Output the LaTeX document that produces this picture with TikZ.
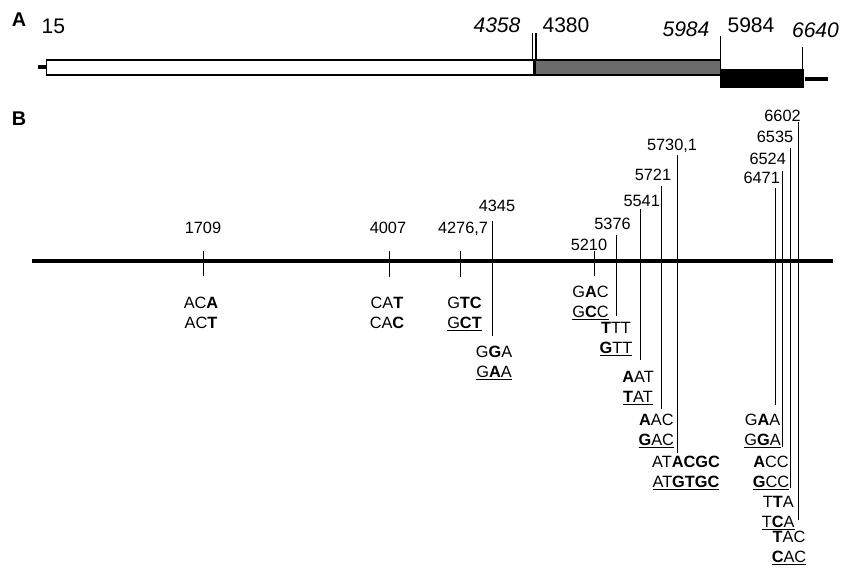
\documentclass[tikz,border=0pt]{standalone}
\usepackage{fontspec}
\setmainfont{Liberation Sans}
\usepackage{tikz}
\usetikzlibrary{positioning}
\definecolor{BarGray}{HTML}{6B6B6B}
\tikzset{
  panel/.style={font=\bfseries\fontsize{11.3}{13}\selectfont,inner sep=0pt,anchor=base},
  poslab/.style={font=\fontsize{12}{14}\selectfont,inner sep=0pt,anchor=base},
  numlab/.style={font=\fontsize{9.3}{11}\selectfont,inner sep=0pt,anchor=base},
  seqlab/.style={font=\fontsize{9.3}{11}\selectfont,inner sep=0pt,anchor=base},
  lead/.style={line width=0.6pt},
  stub/.style={line width=2.2pt},
  bar/.style={draw=black,line width=0.6pt},
}

\begin{document}
\begin{tikzpicture}[x=0.02cm,y=-0.02cm]
  \useasboundingbox (0,0) rectangle (846,569);
  % panel A
  \node[panel] (pA) at (19,26) {A};
  \draw[stub] (38.3,66.7) -- (46.7,66.7);
  \draw[bar,fill=white] (46.7,60) rectangle (533.5,75);
  \draw[bar,fill=BarGray] (535,60) rectangle (720.7,75);
  \draw[bar,fill=black] (720.7,70) rectangle (803.3,87);
  \draw[stub] (805,79) -- (828,79);
  \node[poslab] (p15) at (53.3,33) {15};
  \node[poslab,font=\itshape\fontsize{12}{14}\selectfont] (p4358) at (497,32) {4358};
  \node[poslab] (p4380) at (566,32) {4380};
  \node[poslab,font=\itshape\fontsize{12}{14}\selectfont] (p5984i) at (686,36.7) {5984};
  \node[poslab] (p5984) at (751,32) {5984};
  \node[poslab,font=\itshape\fontsize{12}{14}\selectfont] (p6640) at (815.5,37) {6640};
  \foreach \n/\x/\t/\b in {a/532.7/33/60, b/536/33/60, c/720.7/36/60, d/802.3/47.3/70}{
    \coordinate (mt\n) at (\x,\t);
    \coordinate (mb\n) at (\x,\b);
    \draw[lead] (mt\n) -- (mb\n);
  }
  % panel B
  \node[panel] (pB) at (19,125) {B};
  \coordinate (axl) at (32.3,261);
  \coordinate (axr) at (833.3,261);
  \draw[line width=1.9pt] (axl) -- (axr);
  \foreach \n/\x/\t/\b/\lx/\ly/\num in {
    a/203.3/251/276/203/233.3/1709,
    b/389.3/251/277/388/233/4007,
    c/460.3/251/277/463/233.5/{4276,7},
    d/492.7/220.7/336/497/211.7/4345,
    e/594.3/251/276/589/250/5210,
    f/616.7/235/316/612.5/229.3/5376,
    g/640.3/209/360/641.7/206.7/5541,
    h/661.3/186/409.3/653/180.5/5721,
    i/677.7/155/453.3/672/150/{5730,1},
    j/775.3/188.3/405/761.7/183.3/6471,
    k/782.7/171/446.7/767.7/164.3/6524,
    l/790.7/147.7/488.3/775/142/6535,
    m/798.7/121.7/520/782.5/121.7/6602}{
    \node[numlab] (num\n) at (\lx,\ly) {\num};
    \coordinate (top\n) at (\x,\t);
    \coordinate (bot\n) at (\x,\b);
    \draw[lead] (top\n) -- (bot\n);
  }
  \foreach \n/\x/\y/\ta/\tb in {
    a/201/308/AC\textbf{A}/AC\textbf{T},
    b/387/308/CA\textbf{T}/CA\textbf{C},
    c/464.5/308/G\textbf{TC}/\underline{G\textbf{CT}},
    d/494/357/G\textbf{G}A/\underline{G\textbf{A}A},
    e/590.5/297/G\textbf{A}C/\underline{G\textbf{C}C},
    f/616/333/\textbf{T}TT/\underline{\textbf{G}TT},
    g/638/382/\textbf{A}AT/\underline{\textbf{T}AT},
    h/656.3/425/\textbf{A}AC/\underline{\textbf{G}AC},
    i/686/467/AT\textbf{ACGC}/\underline{AT\textbf{GTGC}},
    j/762.5/425/G\textbf{A}A/\underline{G\textbf{G}A},
    k/771/467/\textbf{A}CC/\underline{\textbf{G}CC},
    l/778.3/507/T\textbf{T}A/\underline{T\textbf{C}A},
    m/789/542/\textbf{T}AC/\underline{\textbf{C}AC}}{
    \node[seqlab] (seqa\n) at (\x,\y) {\ta};
    \node[seqlab] (seqb\n) at (\x,{\y+20}) {\tb};
  }
\end{tikzpicture}
\end{document}
